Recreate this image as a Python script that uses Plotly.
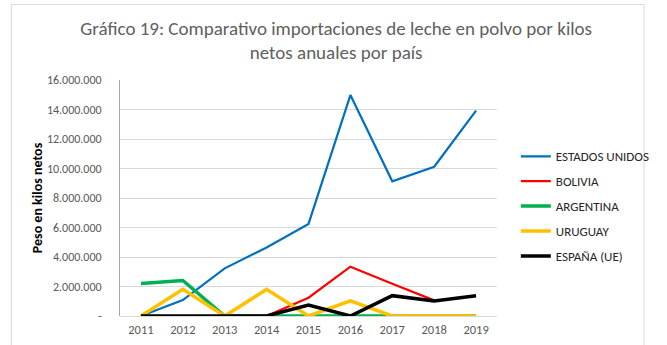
import plotly.graph_objects as go

# Annual net kilos of powdered milk imports by country of origin
years = ["2011", "2012", "2013", "2014", "2015", "2016", "2017", "2018", "2019"]

estados_unidos = [0, 1080000, 3230000, 4650000, 6240000, 14980000, 9130000, 10120000, 13920000]
bolivia = [0, 0, 0, 0, 1240000, 3340000, 2190000, 1060000, None]
argentina = [2210000, 2410000, 0, 0, 0, 0, 0, 0, 0]
uruguay = [0, 1810000, 0, 1810000, 0, 1020000, 0, 0, 0]
espana = [0, 0, 0, 0, 750000, 0, 1380000, 1020000, 1380000]

series = [
    ("ESTADOS UNIDOS", estados_unidos, "#0070C0", 2.2),
    ("BOLIVIA", bolivia, "#FF0000", 2.2),
    ("ARGENTINA", argentina, "#00B050", 3.5),
    ("URUGUAY", uruguay, "#FFC000", 3.5),
    ("ESPAÑA (UE)", espana, "#000000", 3.5),
]

FONT = "Carlito, Lato, sans-serif"

fig = go.Figure()
for i, (name, vals, color, width) in enumerate(series):
    fig.add_trace(go.Scatter(
        x=years, y=vals, name=name, mode="lines",
        line=dict(color=color, width=width),
        legendgroup=f"g{i}",
    ))

tickvals = list(range(0, 16000001, 2000000))
ticktext = ["-"] + [f"{v:,}".replace(",", ".") for v in tickvals[1:]]

fig.update_layout(
    width=667, height=345,
    margin=dict(l=120, r=159, t=80, b=29),
    paper_bgcolor="white", plot_bgcolor="white",
    font=dict(family=FONT, color="#595959", size=12.5),
    title=dict(
        text="Gráfico 19: Comparativo importaciones de leche en polvo por kilos<br>netos anuales por país",
        x=0.504, xanchor="center", y=0.9, yanchor="middle",
        font=dict(family=FONT, size=19, color="#606060"),
    ),
    showlegend=True,
    legend=dict(
        x=1.05, xanchor="left", y=0.74, yanchor="top",
        font=dict(family=FONT, size=13, color="#262626"),
        tracegroupgap=5, bgcolor="rgba(0,0,0,0)",
    ),
    shapes=[dict(
        type="rect", xref="paper", yref="paper",
        x0=-0.288, x1=1.39, y0=-0.2, y1=1.32,
        line=dict(color="#D9D9D9", width=1), layer="below",
    )],
)

fig.update_xaxes(
    type="category", range=[-0.5, 8.5], automargin=False,
    showgrid=False, showline=False, ticks="",
    ticklabelstandoff=4,
    tickfont=dict(size=12.5, color="#595959"),
)
fig.update_yaxes(
    range=[0, 16000000], tickvals=tickvals, ticktext=ticktext,
    automargin=False,
    showgrid=True, gridcolor="#D9D9D9", gridwidth=1,
    zeroline=True, zerolinecolor="#D9D9D9", zerolinewidth=1,
    showline=True, linecolor="#A6A6A6", linewidth=1,
    ticks="", ticklabelstandoff=15,
    tickfont=dict(size=12, color="#595959"),
    title=dict(text="<b>Peso en kilos netos</b>", standoff=0,
               font=dict(size=14, color="#000000")),
)

fig.write_html("out.html")
